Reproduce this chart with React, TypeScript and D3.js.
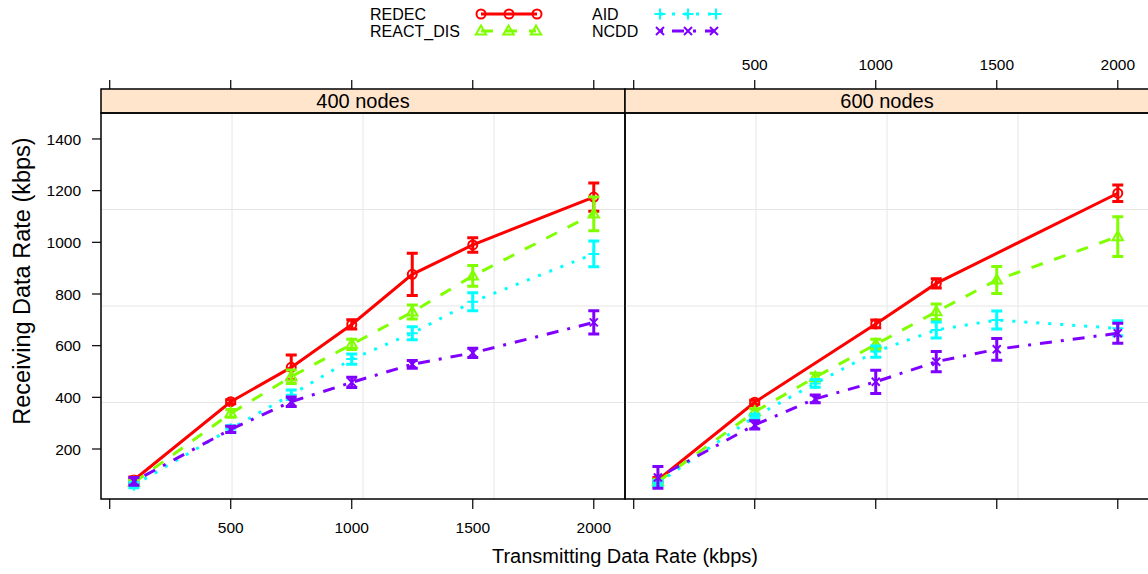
import React from "react";
import * as d3 from "d3";

// ---------- data ----------
const xValues = [100, 500, 750, 1000, 1250, 1500, 2000];
const panelNames = ["400 nodes", "600 nodes"];
const seriesNames = ["REDEC", "REACT_DIS", "AID", "NCDD"];
const seriesColors = ["#FF0000", "#80FF00", "#00FFFF", "#8000FF"];
const seriesDash = ["none", "12,12", "3,9", "3,9,12,9"];
const seriesShapes = ["circle", "triangle", "plus", "cross"];

// 400 nodes
const redec400 = [80, 383, 516, 682, 876, 990, 1175];
const redec400Err = [12, 8, 48, 18, 82, 28, 55];
const reactDis400 = [70, 338, 480, 605, 730, 870, 1110];
const reactDis400Err = [10, 15, 26, 20, 27, 40, 65];
const aid400 = [60, 278, 410, 548, 648, 770, 955];
const aid400Err = [10, 12, 18, 20, 25, 35, 50];
const ncdd400 = [75, 276, 383, 458, 528, 572, 690];
const ncdd400Err = [15, 12, 18, 20, 15, 18, 45];

// 600 nodes (null = no observation)
const redec600 = [80, 381, null, 684, 841, null, 1190];
const redec600Err = [10, 8, null, 15, 18, null, 32];
const reactDis600 = [73, 344, 478, 605, 731, 854, 1022];
const reactDis600Err = [10, 12, 15, 20, 30, 52, 77];
const aid600 = [68, 325, 454, 577, 661, 699, 667];
const aid600Err = [10, 10, 15, 22, 31, 35, 29];
const ncdd600 = [90, 293, 394, 460, 538, 586, 648];
const ncdd600Err = [42, 16, 15, 45, 39, 42, 39];

const xTickValues = [0, 500, 1000, 1500, 2000];
const xTickLabels = ["", "500", "1000", "1500", "2000"];
const yTickValues = [200, 400, 600, 800, 1000, 1200, 1400];

const panelData = [
  [
    [redec400, redec400Err],
    [reactDis400, reactDis400Err],
    [aid400, aid400Err],
    [ncdd400, ncdd400Err],
  ],
  [
    [redec600, redec600Err],
    [reactDis600, reactDis600Err],
    [aid600, aid600Err],
    [ncdd600, ncdd600Err],
  ],
];

// ---------- layout ----------
const FONT = "'Liberation Sans', Arial, Helvetica, sans-serif";
const panelTop = 113;
const panelBottom = 499;
const stripTop = 89;
const panelLefts = [101, 625];
const panelWidth = 524;
const xDomain = [-36, 2129];
const yDomain = [6.5, 1500.5];

function Marker({ shape, x, y, color }: any) {
  const sw = 2;
  if (shape === "circle")
    return <circle cx={x} cy={y} r={4.5} fill="none" stroke={color} strokeWidth={sw} />;
  if (shape === "triangle")
    return (
      <path
        d={`M${x},${y - 5.5}L${x + 5.2},${y + 3.5}L${x - 5.2},${y + 3.5}Z`}
        fill="none"
        stroke={color}
        strokeWidth={sw}
      />
    );
  if (shape === "plus")
    return (
      <path d={`M${x - 5.5},${y}H${x + 5.5}M${x},${y - 5.5}V${y + 5.5}`} stroke={color} strokeWidth={sw} />
    );
  return (
    <path
      d={`M${x - 4},${y - 4}L${x + 4},${y + 4}M${x - 4},${y + 4}L${x + 4},${y - 4}`}
      stroke={color}
      strokeWidth={sw}
    />
  );
}

function Panel({ index }: { index: number }) {
  const left = panelLefts[index];
  const right = left + panelWidth;
  const x = d3.scaleLinear().domain(xDomain).range([left, right]);
  const y = d3.scaleLinear().domain(yDomain).range([panelBottom, panelTop]);
  const clipId = `clip${index}`;
  const fracs = [0.25, 0.5, 0.75];
  const gx = fracs.map((f) => x(xDomain[0] + f * (xDomain[1] - xDomain[0])));
  const gy = fracs.map((f) => y(yDomain[0] + f * (yDomain[1] - yDomain[0])));

  return (
    <g>
      <defs>
        <clipPath id={clipId}>
          <rect x={left} y={panelTop} width={panelWidth} height={panelBottom - panelTop} />
        </clipPath>
      </defs>
      {/* grid */}
      <g stroke="#e6e6e6" strokeWidth={1}>
        {gx.map((v, i) => (
          <line key={"gx" + i} x1={v} x2={v} y1={panelTop} y2={panelBottom} />
        ))}
        {gy.map((v, i) => (
          <line key={"gy" + i} x1={left} x2={right} y1={v} y2={v} />
        ))}
      </g>
      {/* series */}
      <g clipPath={`url(#${clipId})`}>
        {panelData[index].map(([vals, errs]: any, si: number) => {
          const pts = xValues
            .map((xv, i) => ({ xv, v: vals[i], e: errs[i] }))
            .filter((p) => p.v !== null);
          const line = d3
            .line<any>()
            .x((p) => x(p.xv))
            .y((p) => y(p.v));
          const color = seriesColors[si];
          return (
            <g key={si}>
              <path
                d={line(pts) || ""}
                fill="none"
                stroke={color}
                strokeWidth={3}
                strokeDasharray={seriesDash[si]}
              />
              {pts.map((p, i) => (
                <Marker key={"m" + i} shape={seriesShapes[si]} x={x(p.xv)} y={y(p.v)} color={color} />
              ))}
              {pts.map((p, i) => {
                const cx = x(p.xv);
                const y1 = y(p.v - p.e);
                const y2 = y(p.v + p.e);
                return (
                  <path
                    key={"e" + i}
                    d={`M${cx},${y1}V${y2}M${cx - 5.5},${y1}H${cx + 5.5}M${cx - 5.5},${y2}H${cx + 5.5}`}
                    stroke={color}
                    strokeWidth={3}
                    fill="none"
                  />
                );
              })}
            </g>
          );
        })}
      </g>
      {/* strip */}
      <rect
        x={left}
        y={stripTop}
        width={panelWidth}
        height={panelTop - stripTop}
        fill="#FFE5CC"
        stroke="#000"
        strokeWidth={1.5}
      />
      <text
        x={(left + right) / 2}
        y={(stripTop + panelTop) / 2}
        dy="0.36em"
        textAnchor="middle"
        fontSize={20}
        fontFamily={FONT}
        fill="#000"
      >
        {panelNames[index]}
      </text>
      {/* panel border */}
      <rect
        x={left}
        y={panelTop}
        width={panelWidth}
        height={panelBottom - panelTop}
        fill="none"
        stroke="#000"
        strokeWidth={1.5}
      />
      {/* bottom ticks */}
      <g stroke="#000" strokeWidth={1.2}>
        {xTickValues.map((t) => (
          <line key={"bt" + t} x1={x(t)} x2={x(t)} y1={panelBottom} y2={panelBottom + 10} />
        ))}
        {xTickValues.map((t) => (
          <line key={"tt" + t} x1={x(t)} x2={x(t)} y1={stripTop - 9} y2={stripTop} />
        ))}
      </g>
      {index === 0 &&
        xTickValues.map((t, i) => (
          <text
            key={"bl" + t}
            x={x(t)}
            y={527}
            dy="0.36em"
            textAnchor="middle"
            fontSize={15.5}
            fontFamily={FONT}
          >
            {xTickLabels[i]}
          </text>
        ))}
      {index === 1 &&
        xTickValues.map((t, i) => (
          <text
            key={"tl" + t}
            x={x(t)}
            y={64}
            dy="0.36em"
            textAnchor="middle"
            fontSize={15.5}
            fontFamily={FONT}
          >
            {xTickLabels[i]}
          </text>
        ))}
      {index === 0 && (
        <g>
          {yTickValues.map((t) => (
            <g key={"yt" + t}>
              <line x1={left - 9} x2={left} y1={y(t)} y2={y(t)} stroke="#000" strokeWidth={1.2} />
              <text
                x={left - 20}
                y={y(t)}
                dy="0.36em"
                textAnchor="end"
                fontSize={15.5}
                fontFamily={FONT}
              >
                {t}
              </text>
            </g>
          ))}
        </g>
      )}
    </g>
  );
}

function Legend() {
  const rows = [
    { si: 0, tx: 370, sx: [481, 509, 537], y: 14 },
    { si: 1, tx: 370, sx: [481, 508.5, 536], y: 31 },
    { si: 2, tx: 592, sx: [660, 688, 716], y: 14 },
    { si: 3, tx: 592, sx: [660, 688, 714], y: 31 },
  ];
  return (
    <g>
      {rows.map((r) => (
        <g key={r.si}>
          <text x={r.tx} y={r.y} dy="0.36em" fontSize={16} fontFamily={FONT}>
            {seriesNames[r.si]}
          </text>
          <line
            x1={r.sx[0]}
            x2={r.sx[2]}
            y1={r.y}
            y2={r.y}
            stroke={seriesColors[r.si]}
            strokeWidth={3}
            strokeDasharray={seriesDash[r.si]}
          />
          {r.sx.map((sx, i) => (
            <Marker key={i} shape={seriesShapes[r.si]} x={sx} y={r.y} color={seriesColors[r.si]} />
          ))}
        </g>
      ))}
    </g>
  );
}

export default function App() {
  return (
    <svg
      width={1148}
      height={574}
      style={{ position: "absolute", left: 0, top: 0, background: "#fff" }}
    >
      <rect x={0} y={0} width={1148} height={574} fill="#fff" />
      <Legend />
      <Panel index={0} />
      <Panel index={1} />
      <text x={625} y={556} dy="0.36em" textAnchor="middle" fontSize={20} fontFamily={FONT}>
        Transmitting Data Rate (kbps)
      </text>
      <text
        transform={`translate(22,281) rotate(-90)`}
        dy="0.36em"
        textAnchor="middle"
        fontSize={23.5}
        fontFamily={FONT}
      >
        Receiving Data Rate (kbps)
      </text>
    </svg>
  );
}
